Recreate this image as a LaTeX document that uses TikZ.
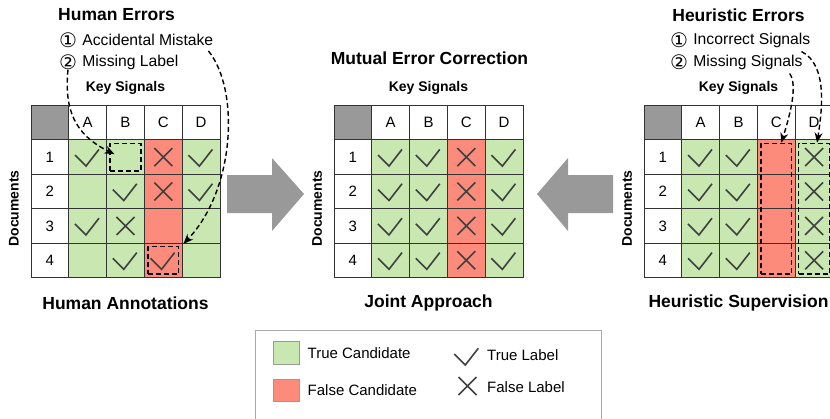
\documentclass[tikz,border=0pt]{standalone}
\usepackage{fontspec}
\setmainfont{Liberation Sans}
\newfontfamily\circfont{DejaVu Sans}
\usepackage{tikz}
\usetikzlibrary{arrows.meta,positioning,fit}
\definecolor{okgreen}{RGB}{201,231,177}
\definecolor{badred}{RGB}{252,139,124}
\definecolor{cornergray}{RGB}{153,153,153}
\definecolor{gridline}{RGB}{51,51,51}
\definecolor{markgray}{RGB}{64,64,64}
\definecolor{boxgray}{RGB}{170,170,170}

% one table: #1 prefix, #2 left, #3 top, #4 caption
\newcommand{\docgrid}[4]{%
  \node[cell, fill=cornergray] (#1-0-0) at ({#2+18.9},{#3+17.2}) {};
  \foreach \cl [count=\i] in {A,B,C,D}
    \node[cell, fill=white] (#1-0-\cl) at ({#2+18.9+37.8*\i},{#3+17.2}) {\cl};
  \foreach \rw in {1,...,4} {
    \node[cell, fill=white] (#1-\rw-0) at ({#2+18.9},{#3+17.2+34.4*\rw}) {\rw};
    \foreach \cl/\col [count=\i] in {A/okgreen,B/okgreen,C/badred,D/okgreen}
      \node[cell, fill=\col] (#1-\rw-\cl) at ({#2+18.9+37.8*\i},{#3+17.2+34.4*\rw}) {};
  }
  \node[sub] (#1-key) at ({#2+94.5},{#3-17.5}) {Key Signals};
  \node[sub, rotate=90] (#1-docs) at ({#2-17},{#3+103}) {Documents};
  \node[ttl] (#1-foot) at ({#2+94.5},{#3+197.5}) {#4};
}

\begin{document}
\begin{tikzpicture}[
  x=1pt, y=-1pt,
  cell/.style={draw=gridline, line width=1pt, minimum width=37.8pt, minimum height=34.4pt,
    inner sep=0pt, outer sep=0pt, font=\fontsize{15}{18}\selectfont},
  ttl/.style={font=\fontsize{17.5}{21}\selectfont\bfseries, inner sep=0pt},
  sub/.style={font=\fontsize{14}{17}\selectfont\bfseries, inner sep=0pt},
  note/.style={font=\fontsize{15.7}{18}\selectfont, inner sep=0pt},
  num/.style={font=\circfont\fontsize{20}{22}\selectfont, inner sep=0pt},
  dbox/.style={draw=black, line width=1.4pt, dash pattern=on 5pt off 3pt, inner sep=-3.5pt},
  darr/.style={-{Stealth[length=10pt,width=8pt]}, line width=1.4pt, dash pattern=on 5pt off 3pt},
  bigarr/.style={fill=cornergray},
  swatch/.style={draw=cornergray, line width=1pt, minimum width=26pt, minimum height=22.5pt, inner sep=0pt},
  legtxt/.style={font=\fontsize{15}{18}\selectfont, inner sep=0pt},
  chk/.pic={\draw[markgray, line width=1.6pt] (-12.7,-2) -- (-1.7,9) -- (11.3,-7.7);},
  crs/.pic={\draw[markgray, line width=1.6pt] (-9,-9) -- (9,9) (-9,9) -- (9,-9);}
]
\useasboundingbox (0,0) rectangle (830,418);
\clip (0,0) rectangle (830,418);

% tables
\docgrid{L}{31}{105.5}{Human Annotations}
\docgrid{M}{334}{105.5}{Joint Approach}
\docgrid{R}{644}{105.5}{Heuristic Supervision}

% human side
\node[ttl, anchor=west] (L-head) at (58,15) {Human Errors};
\node[num] (L-n1) at (68,40) {①};
\node[note, right=5pt of L-n1] (L-t1) {Accidental Mistake};
\node[num] (L-n2) at (68,62) {②};
\node[note, right=5pt of L-n2] (L-t2) {Missing Label};

\foreach \cc in {1-A,1-D,2-B,2-D,3-A,4-B,4-C} \pic at (L-\cc) {chk};
\foreach \cc in {1-C,2-C,3-B} \pic at (L-\cc) {crs};
\node[dbox, fit=(L-1-B)] (L-miss) {};
\node[dbox, fit=(L-4-C)] (L-err) {};
\draw[darr] (L-n2.south) .. controls (64,110) and (75,135) .. ([xshift=5pt,yshift=3pt]L-miss.west);
\draw[darr] ([xshift=-5pt,yshift=-5pt]L-t1.south east) .. controls (240,90) and (235,190) .. ([xshift=4pt,yshift=2pt]L-err.north east);

% joint
\node[ttl] (M-head) at (429.5,58) {Mutual Error Correction};
\foreach \rw in {1,...,4} {
  \foreach \cl in {A,B,D} \pic at (M-\rw-\cl) {chk};
  \pic at (M-\rw-C) {crs};
}

% heuristic side
\node[ttl] (R-head) at (738.5,15) {Heuristic Errors};
\node[num] (R-n1) at (679,40) {①};
\node[note, right=5pt of R-n1] (R-t1) {Incorrect Signals};
\node[num] (R-n2) at (679,62) {②};
\node[note, right=5pt of R-n2] (R-t2) {Missing Signals};

\foreach \rw in {1,...,4} {
  \pic at (R-\rw-A) {chk};
  \pic at (R-\rw-B) {chk};
  \pic at (R-\rw-D) {crs};
}
\node[dbox, fit=(R-1-C)(R-4-C)] (R-miss) {};
\node[dbox, fit=(R-1-D)(R-4-D)] (R-inc) {};
\draw[darr] ([xshift=-9pt,yshift=-4pt]R-t1.south east) .. controls (828,65) and (822,110) .. ([xshift=3pt]R-inc.north);
\draw[darr] ([xshift=-13pt,yshift=-4pt]R-t2.south east) .. controls (798,85) and (790,115) .. ([xshift=5pt]R-miss.north);

% big arrows
\fill[bigarr] (227,175) -- (272,175) -- (272,158) -- (304,194) -- (272,231) -- (272,213) -- (227,213) -- cycle;
\fill[bigarr] (613,175) -- (568,175) -- (568,158) -- (537,194) -- (568,231) -- (568,213) -- (613,213) -- cycle;

% legend
\node[draw=boxgray, line width=1pt, minimum width=346pt, minimum height=110pt,
  anchor=north west, inner sep=0pt] (legend) at (255,329.5) {};
\node[swatch, fill=okgreen] (sw-true) at (286,353) {};
\node[swatch, fill=badred] (sw-false) at (286,390.5) {};
\node[legtxt, right=8pt of sw-true] (lg-true) {True Candidate};
\node[legtxt, right=8pt of sw-false] (lg-false) {False Candidate};
\pic at (467,356) {chk};
\pic at (467.5,386) {crs};
\node[legtxt, anchor=west] (lg-tl) at (487,355) {True Label};
\node[legtxt, anchor=west] (lg-fl) at (487,387) {False Label};
\end{tikzpicture}
\end{document}
